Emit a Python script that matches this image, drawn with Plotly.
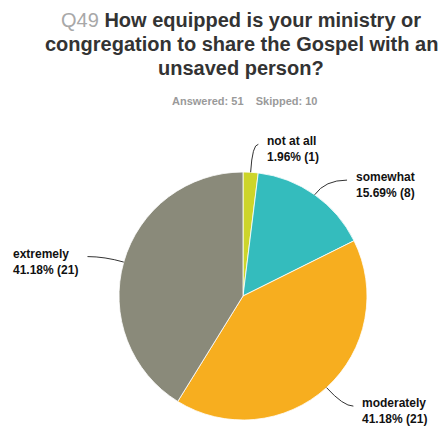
import math
import plotly.graph_objects as go

# Survey responses, clockwise from 12 o'clock
labels = ["not at all", "somewhat", "moderately", "extremely"]
counts = [1, 8, 21, 21]
colors = ["#CDD52A", "#34BCBD", "#F7AE1F", "#8A8A7A"]
answered = 51
skipped = 10

question_no = "Q49"
title_lines = [
    "How equipped is your ministry or",
    "congregation to share the Gospel with an",
    "unsaved person?",
]

# ---- layout geometry (pixels) ----
W, H = 448, 427
CX, CY, R = 243, 296, 124
# connector: radial overshoot beyond the rim, then horizontal run to the label
leader = [(28, 6), (18, 22), (25, 10), (20, 17)]
LABEL_FONT = dict(family="Liberation Sans, Arial, sans-serif", size=12, color="#111111")


def px(x):
    return x / W


def py(y):
    return 1 - y / H


total = sum(counts)

fig = go.Figure(
    go.Pie(
        labels=labels,
        values=counts,
        marker=dict(colors=colors, line=dict(color="#ffffff", width=0.8)),
        sort=False,
        direction="clockwise",
        rotation=0,
        textinfo="none",
        hoverinfo="label+value+percent",
        domain=dict(x=[px(CX - R), px(CX + R)], y=[py(CY + R), py(CY - R)]),
    )
)

shapes = []
annotations = []

# slice labels with curved leader lines, placed from each slice's mid-angle
cum = 0
for lab, c, (ext, run) in zip(labels, counts, leader):
    mid = (cum + c / 2) / total * 2 * math.pi
    cum += c
    dx, dy = math.sin(mid), -math.cos(mid)
    x0, y0 = CX + R * dx, CY + R * dy
    x1, y1 = CX + (R + ext) * dx, CY + (R + ext) * dy
    side = 1 if dx >= 0 else -1
    x2, y2 = x1 + side * run, y1
    shapes.append(dict(
        type="path", xref="paper", yref="paper",
        path=f"M {px(x0)} {py(y0)} Q {px(x1)} {py(y1)} {px(x2)} {py(y2)}",
        line=dict(color="#333333", width=1),
    ))
    pct = c / total * 100
    annotations.append(dict(
        xref="paper", yref="paper",
        x=px(x2 + side * 7), y=py(y2 + 5),
        xanchor="left" if side > 0 else "right", yanchor="middle", align="left",
        text=f"<b>{lab}<br>{pct:.2f}% ({c})</b>",
        showarrow=False, font=LABEL_FONT,
    ))

# title, one annotation per line
TITLE_FONT = dict(family="Liberation Sans, Arial, sans-serif", size=20, color="#333333")
title_centers = [20, 44, 68]
for i, (line, yc) in enumerate(zip(title_lines, title_centers)):
    txt = f"<b>{line}</b>"
    if i == 0:
        txt = f"<span style='color:#a8a8a8'>{question_no}</span> " + txt
    annotations.append(dict(
        xref="paper", yref="paper", x=px(241), y=py(yc),
        xanchor="center", yanchor="middle",
        text=txt, showarrow=False, font=TITLE_FONT,
    ))

gap = "\u00a0" * 4
annotations.append(dict(
    xref="paper", yref="paper", x=px(245), y=py(101),
    xanchor="center", yanchor="middle",
    text=f"<b>Answered: {answered}{gap}Skipped: {skipped}</b>",
    showarrow=False,
    font=dict(family="Liberation Sans, Arial, sans-serif", size=11, color="#9a9a9a"),
))

fig.update_layout(
    width=W, height=H,
    margin=dict(l=0, r=0, t=0, b=0),
    paper_bgcolor="#ffffff",
    plot_bgcolor="#ffffff",
    showlegend=False,
    shapes=shapes,
    annotations=annotations,
)

fig.write_html("out.html", config={"displayModeBar": False})
